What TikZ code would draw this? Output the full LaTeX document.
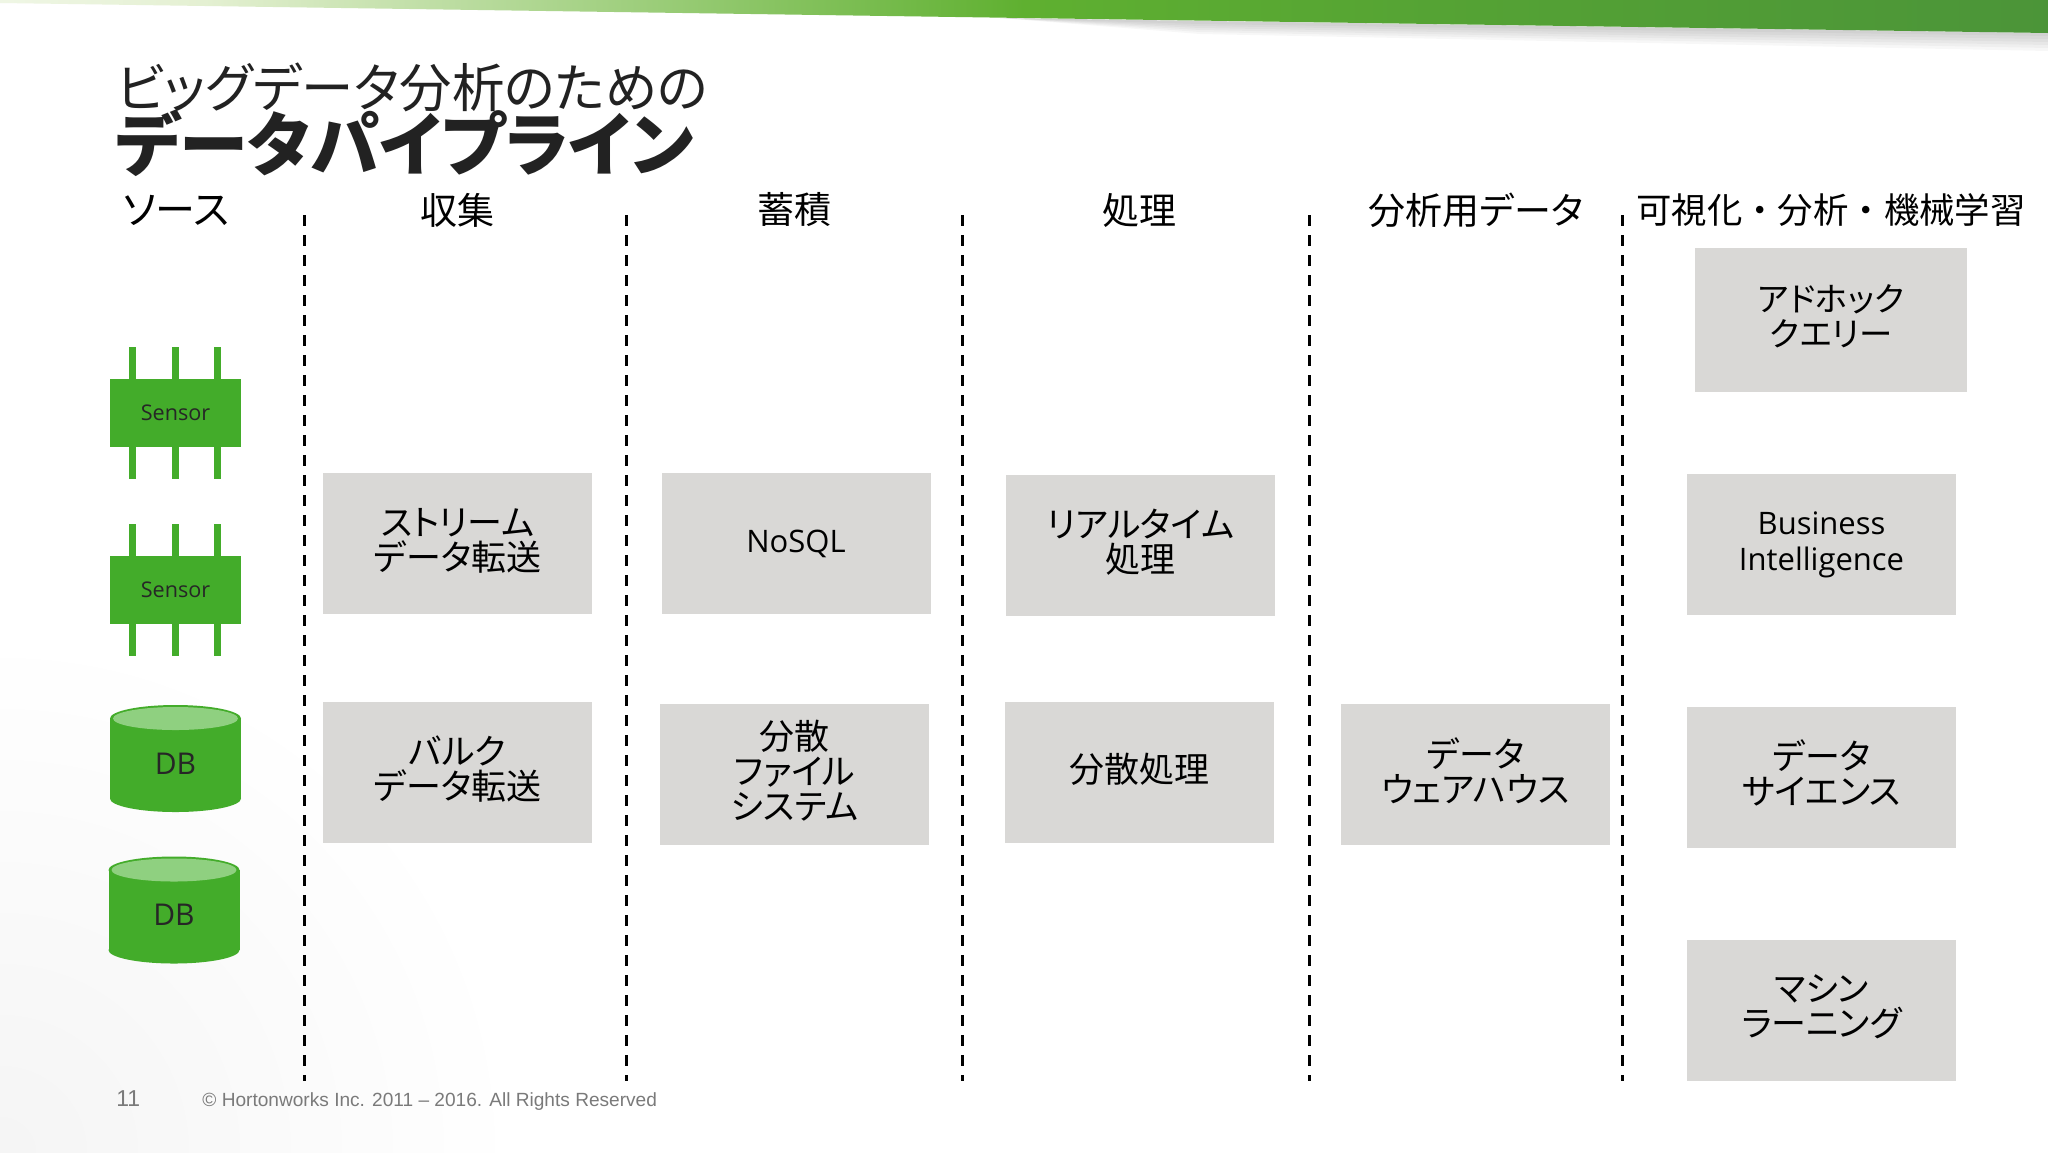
\documentclass[tikz,border=0pt]{standalone}
\usepackage{fontspec}
\setmainfont{Noto Sans CJK JP}[RawFeature=+palt]
\newfontfamily\fullwidth{Noto Sans CJK JP}
\newfontfamily\latinfont{Open Sans}
\newfontfamily\footfont{Liberation Sans}
\definecolor{sourcegreen}{HTML}{43AC2A}
\definecolor{dbtop}{HTML}{8FD080}
\definecolor{stagegray}{HTML}{D9D8D6}
\definecolor{titleink}{HTML}{222222}
\definecolor{footink}{HTML}{7A7A7A}
\definecolor{bannerpale}{HTML}{E4F0D2}
\definecolor{bannermid}{HTML}{5FB030}
\definecolor{bannerleaf}{HTML}{55A334}
\definecolor{bannerdark}{HTML}{3B7C40}
\pgfdeclarehorizontalshading{bannershade}{100bp}{
	color(0bp)=(white);
	color(18bp)=(white);
	color(30bp)=(bannerpale);
	color(50bp)=(bannermid);
	color(60bp)=(bannerleaf);
	color(100bp)=(bannerdark)}
\tikzset{
	stagebox/.style={fill=stagegray, minimum width=134.5pt, minimum height=70.5pt, inner sep=0pt, align=center, text depth=4.5pt, font=\fontsize{17.5}{17.5}\selectfont, text=black},
	latinbox/.style={stagebox, text depth=2.6pt, font=\latinfont\fontsize{15.5}{18}\selectfont},
	stagehead/.style={font=\fontsize{18.5}{20}\selectfont, text=black, inner sep=0pt},
	sensorbody/.style={fill=sourcegreen, minimum width=65.5pt, minimum height=34pt, inner sep=0pt, font=\latinfont\fontsize{10.8}{12}\selectfont, text=black!85},
	sensorpin/.style={sourcegreen, line width=3.4pt},
	dbtext/.style={inner sep=0pt, font=\latinfont\fontsize{15}{16}\selectfont, text=black!85},
	stagesplit/.style={black, line width=1.5pt, dash pattern=on 5.5pt off 4.5pt},
}
\begin{document}
\begin{tikzpicture}[x=0.5pt,y=-0.5pt]
	\useasboundingbox (0,0) rectangle (2048,1152);
	\clip (0,0) rectangle (2048,1152);
	\fill[white] (0,0) rectangle (2048,1152);
	\shade[inner color=black!4, outer color=white] (0,1152) circle [radius=520];
	\foreach \i in {1,2,...,6}{
		\fill[black, opacity=0.03] (1000,18) -- (2048,33) -- (2048,33+3*\i) -- (1200,22+2*\i) -- cycle;
		};
	\shade[shading=bannershade] (0,0) -- (2048,0) -- (2048,33) -- (0,3) -- cycle;

	\node[anchor=west, inner sep=0pt, text=titleink, font=\fontsize{26.2}{26}\selectfont] (titletop) at (116,87) {ビッグデータ分析のための};
	\node[anchor=west, inner sep=0pt, text=titleink, font=\fontsize{34.6}{34}\bfseries\selectfont] (titlemain) at (115,143) {データパイプライン};

	\node[stagehead, font=\fontsize{20}{20}\selectfont] (headsource) at (176,210) {ソース};
	\node[stagehead] (headcollect) at (457,210) {収集};
	\node[stagehead] (headstore) at (794,210) {蓄積};
	\node[stagehead] (headprocess) at (1139,210) {処理};
	\node[stagehead] (headmart) at (1476,210) {分析用データ};
	\node[stagehead, font=\fullwidth\fontsize{17.7}{20}\selectfont] (headuse) at (1831,210) {可視化・分析・機械学習};

	\foreach \x in {304,626,962,1309,1622}{
		\draw[stagesplit] (\x,215) -- (\x,1081);
		};

	\foreach \y in {413,590}{
		\foreach \x in {132.5,175.5,217.5}{
			\draw[sensorpin] (\x,\y-66) -- (\x,\y+66);
			};
		\node[sensorbody] (sensor\y) at (175.5,\y) {Sensor};
		};
	\foreach \name/\x/\y in {dbone/175.5/758.5,dbtwo/174/910}{
		\fill[sourcegreen] (\x-65.5,\y-40) rectangle (\x+65.5,\y+40);
		\fill[sourcegreen] (\x,\y+40) ellipse [x radius=65.5, y radius=13.5];
		\fill[sourcegreen] (\x,\y-40) ellipse [x radius=65.5, y radius=13.5];
		\fill[dbtop] (\x,\y-40) ellipse [x radius=62.5, y radius=11.5];
		\node[dbtext] (\name) at (\x,\y+5) {DB};
		};

	\node[stagebox] (stream) at (457.5,543.5) {ストリーム\\データ転送};
	\node[stagebox] (bulk) at (457.5,772) {バルク\\データ転送};
	\node[latinbox] (nosql) at (796,543.5) {NoSQL};
	\node[stagebox] (dfs) at (794.5,774.5) {分散\\ファイル\\システム};
	\node[stagebox] (realtime) at (1140.5,545.5) {リアルタイム\\処理};
	\node[stagebox] (batch) at (1139.5,772) {分散処理};
	\node[stagebox] (warehouse) at (1475.5,774.5) {データ\\ウェアハウス};
	\node[stagebox, minimum width=136pt, minimum height=72pt, font=\fontsize{16.7}{17.5}\selectfont] (adhoc) at (1831,320) {アドホック\\クエリー};
	\node[latinbox] (bi) at (1821.5,544) {Business\\Intelligence};
	\node[stagebox] (science) at (1821.5,777) {データ\\サイエンス};
	\node[stagebox] (learning) at (1821.5,1010.5) {マシン\\ラーニング};

	\node[anchor=west, inner sep=0pt, text=footink, font=\footfont\fontsize{11.5}{12}\selectfont] (pagenum) at (116,1099) {11};
	\node[anchor=west, inner sep=0pt, text=footink, font=\footfont\fontsize{9.55}{12}\selectfont] (copyright) at (202,1102) {© Hortonworks Inc. 2011 – 2016. All Rights Reserved};
\end{tikzpicture}
\end{document}
